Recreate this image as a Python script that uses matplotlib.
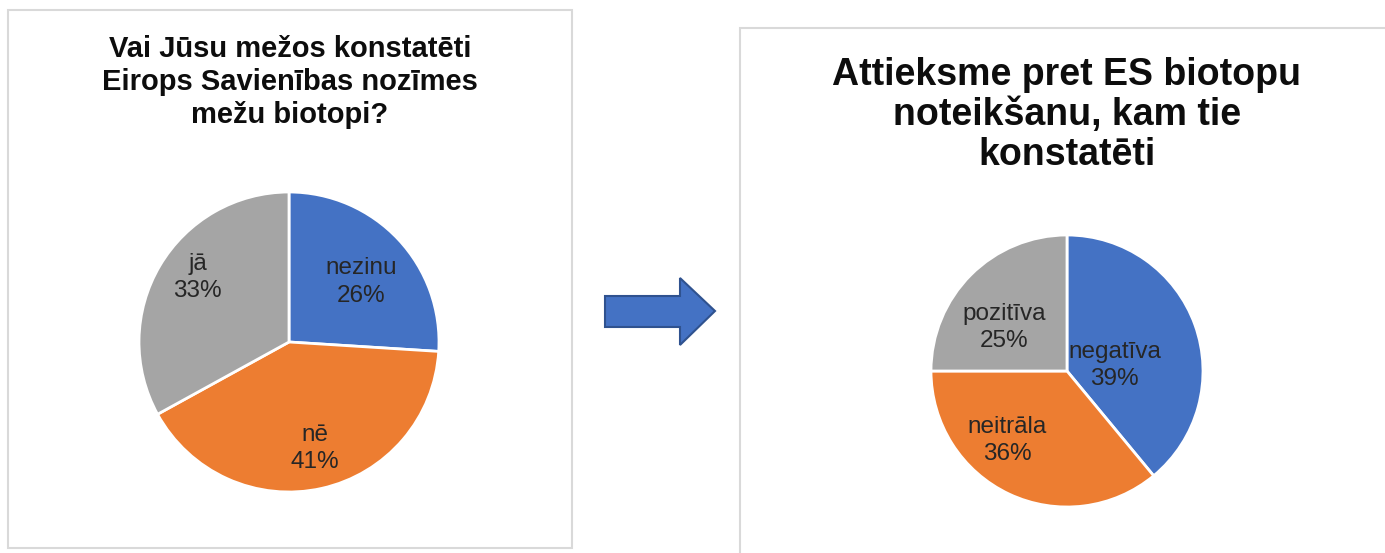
import numpy as np
import matplotlib
matplotlib.use("Agg")
import matplotlib.pyplot as plt
from matplotlib.patches import Rectangle, Polygon

plt.rcParams['font.family'] = ['Liberation Sans', 'DejaVu Sans']

#-----------------------------
#values
left_title = "Vai Jūsu mežos konstatēti\nEirops Savienības nozīmes\nmežu biotopi?"
left_labels = ["nezinu", "nē", "jā"]
left_values = [26, 41, 33]

right_title = "Attieksme pret ES biotopu\nnoteikšanu, kam tie\nkonstatēti"
right_labels = ["negatīva", "neitrāla", "pozitīva"]
right_values = [39, 36, 25]

colors = ["#4472C4", "#ED7D31", "#A5A5A5"]

W, H = 1385, 553


def fig_box(x0, y0, x1, y1):
    # pixel box (top-left origin) -> figure fraction rect
    return [x0 / W, 1 - y1 / H, (x1 - x0) / W, (y1 - y0) / H]


fig = plt.figure(figsize=(W / 100, H / 100), dpi=100)

#------------------------------
#panel frames
for (x0, y0, x1, y1) in [(8, 10, 572, 548), (740, 28, 1390, 560)]:
    fig.patches.append(Rectangle((x0 / W, 1 - y1 / H), (x1 - x0) / W, (y1 - y0) / H,
                                 transform=fig.transFigure, facecolor="white",
                                 edgecolor="#D9D9D9", linewidth=1.5, zorder=-5))


#------------------------------
#pies
def draw_pie(rect, values, labels, label_pos, fsize):
    ax = fig.add_axes(rect, zorder=2)
    ax.pie(values, colors=colors, startangle=90, counterclock=False,
           wedgeprops=dict(edgecolor="white", linewidth=2))
    for lab, v, (x, y) in zip(labels, values, label_pos):
        ax.text(x, y, f"{lab}\n{v}%", ha="center", va="center",
                fontsize=fsize, color="#262626", linespacing=1.3)
    ax.set_xlim(-1, 1)
    ax.set_ylim(-1, 1)
    ax.set_aspect("equal")
    ax.axis("off")
    return ax


draw_pie(fig_box(139, 192, 439, 492), left_values, left_labels,
         [(0.48, 0.40), (0.17, -0.71), (-0.61, 0.43)], 17.5)
draw_pie(fig_box(931, 235, 1203, 507), right_values, right_labels,
         [(0.35, 0.04), (-0.44, -0.51), (-0.46, 0.32)], 17.5)

#------------------------------
#titles
fig.text(290 / W, 1 - 82 / H, left_title, ha="center", va="center",
         fontsize=21, fontweight="bold", color="#0D0D0D", linespacing=1.23)
fig.text(1067 / W, 1 - 115 / H, right_title, ha="center", va="center",
         fontsize=27, fontweight="bold", color="#0D0D0D", linespacing=1.13)

#------------------------------
#arrow between the panels
arrow_px = [(605, 296), (680, 296), (680, 278), (715, 311),
            (680, 345), (680, 327), (605, 327)]
fig.patches.append(Polygon([(x / W, 1 - y / H) for x, y in arrow_px],
                           closed=True, transform=fig.transFigure,
                           facecolor="#4472C4", edgecolor="#2F528F", linewidth=1.5))

fig.savefig("out.png", dpi=100)
